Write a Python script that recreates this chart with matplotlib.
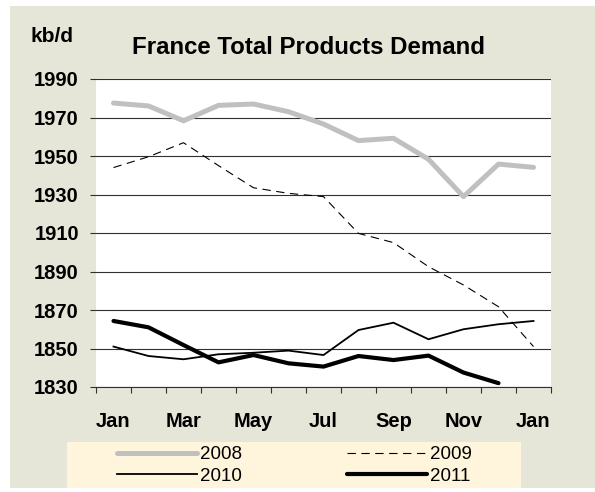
import matplotlib.pyplot as plt
from matplotlib.patches import Rectangle

plt.rcParams['font.family'] = ['Liberation Sans', 'DejaVu Sans']
plt.rcParams['lines.scale_dashes'] = False

# monthly demand, kb/d (Jan .. Dec, Jan)
months = ['Jan', 'Feb', 'Mar', 'Apr', 'May', 'Jun', 'Jul', 'Aug', 'Sep', 'Oct', 'Nov', 'Dec', 'Jan']
y2008 = [1977.5, 1976, 1968.3, 1976.3, 1977, 1973, 1966.6, 1958, 1959.2, 1948.3, 1928.9, 1945.8, 1944.1]
y2009 = [1944, 1949.6, 1956.9, 1945, 1933.5, 1930.6, 1928.9, 1909.8, 1905, 1892.5, 1883, 1871.7, 1851]
y2010 = [1851, 1846.1, 1844.4, 1847, 1847.8, 1848.9, 1846.6, 1859.6, 1863.4, 1854.8, 1860, 1862.6, 1864.3]
y2011 = [1864.3, 1861, 1851.8, 1842.8, 1846.6, 1842.3, 1840.6, 1846.1, 1844, 1846.3, 1837.5, 1832]

fig = plt.figure(figsize=(5.95, 4.92), dpi=100, facecolor='white')
# beige chart background and cream legend box
fig.patches.append(Rectangle((10/595, 4/492), 585/595, 482/492, transform=fig.transFigure,
                             facecolor='#E6E6D8', edgecolor='none', zorder=-2))
fig.patches.append(Rectangle((67/595, 4/492), 454/595, 46/492, transform=fig.transFigure,
                             facecolor='#FFF5DC', edgecolor='none', zorder=-1))

ax = fig.add_axes([96/595, 105/492, 455/595, 308/492])
ax.set_zorder(5)
ax.set_facecolor('white')

x = list(range(len(months)))
l1, = ax.plot(x, y2008, color='#C0C0C0', lw=3.6, label='2008', solid_capstyle='round')
l2, = ax.plot(x, y2009, color='black', lw=0.8, dashes=(6, 4), label='2009')
l3, = ax.plot(x, y2010, color='black', lw=1.3, label='2010')
l4, = ax.plot(x[:len(y2011)], y2011, color='black', lw=3.0, label='2011', solid_capstyle='round')

ax.set_xlim(-0.5, 12.5)
ax.set_ylim(1830, 1990)
ax.set_yticks(range(1830, 1991, 20))
ax.set_xticks(x[::2])
ax.set_xticklabels(months[::2])
ax.set_xticks([i - 0.5 for i in range(14)], minor=True)
ax.tick_params(axis='x', which='major', length=0, pad=18)
ax.tick_params(axis='x', which='minor', length=4.3, width=0.8, color='#303030')
ax.tick_params(axis='y', length=4.3, width=0.8, color='#303030', pad=8)
for lab in ax.get_xticklabels() + ax.get_yticklabels():
    lab.set_fontsize(14.5)
    lab.set_fontweight('bold')

ax.grid(axis='y', color='#303030', lw=0.8)
ax.set_axisbelow(True)
for s in ['top', 'left', 'right']:
    ax.spines[s].set_visible(False)
ax.spines['bottom'].set_color('#303030')
ax.spines['bottom'].set_linewidth(0.8)

fig.text(309/595, 1 - 47/492, 'France Total Products Demand', ha='center', va='center',
         fontsize=17.3, fontweight='bold')
fig.text(30/595, 1 - 36/492, 'kb/d', ha='left', va='center', fontsize=15, fontweight='bold')

fig.legend([l1, l3, l2, l4], ['2008', '2010', '2009', '2011'], ncol=2,
           loc='upper left', bbox_to_anchor=(117/595, 1 - 446/492), frameon=False,
           borderpad=0, borderaxespad=0, fontsize=13.5, handlelength=4.27,
           handletextpad=0.15, columnspacing=5.6, labelspacing=0.25)

fig.savefig('out.png', dpi=100)
